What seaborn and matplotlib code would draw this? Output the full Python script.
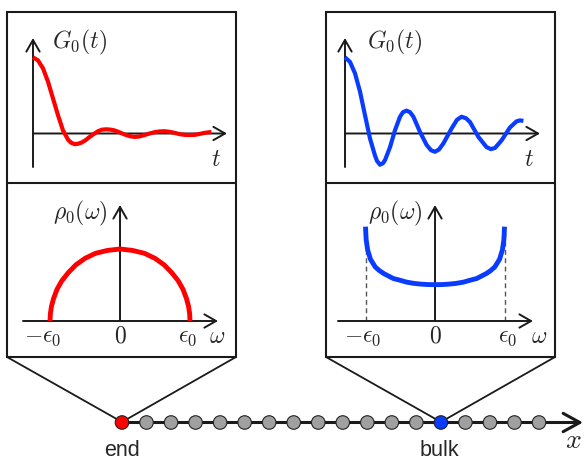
import matplotlib
matplotlib.use("Agg")
import matplotlib.pyplot as plt
import seaborn as sns
from matplotlib.patches import Rectangle

# G0(t) at the end of the chain
end_t = [0, 0.25, 0.5, 0.75, 1.0, 1.25, 1.5, 1.75, 1.9, 2.08, 2.25, 2.42, 2.62, 2.83, 3.05, 3.25,
         3.45, 3.67, 3.9, 4.08, 4.33, 4.58, 4.83, 5.08, 5.33, 5.58, 5.83, 6.08, 6.33, 6.58,
         6.83, 7.08, 7.33, 7.58, 7.83, 8.08, 8.33, 8.58, 8.92]
end_G = [1.0, 0.96, 0.855, 0.68, 0.46, 0.24, 0.04, -0.08, -0.12, -0.14, -0.135, -0.12, -0.09,
         -0.045, -0.005, 0.03, 0.05, 0.055, 0.05, 0.04, 0.015, -0.013, -0.035, -0.045, -0.038,
         -0.02, 0.0, 0.017, 0.027, 0.03, 0.022, 0.008, -0.008, -0.018, -0.02, -0.018, -0.006,
         0.008, 0.02]

# G0(t) in the bulk (right upper panel)
bulk_t = [0, 0.25, 0.5, 0.75, 1.0, 1.25, 1.5, 1.6, 1.75, 1.9, 2.0, 2.25, 2.5, 2.75, 2.9, 3.08,
          3.25, 3.42, 3.75, 4.08, 4.3, 4.5, 4.7, 4.92, 5.33, 5.6, 5.83, 6.05, 6.25, 6.67,
          7.08, 7.3, 7.5, 7.83, 8.25, 8.58, 8.75, 8.92]
bulk_G = [1.0, 0.94, 0.79, 0.55, 0.24, -0.066, -0.29, -0.36, -0.41, -0.39, -0.35, -0.18, 0.043,
          0.22, 0.28, 0.30, 0.28, 0.22, 0.02, -0.15, -0.22, -0.24, -0.21, -0.13, 0.066, 0.18,
          0.22, 0.2, 0.15, -0.045, -0.18, -0.205, -0.19, -0.09, 0.08, 0.16, 0.172, 0.166]

# rho0(omega) at the end: semicircle
end_w = [-1.0, -0.995, -0.98, -0.95, -0.9, -0.83, -0.74, -0.63, -0.5, -0.35, -0.18, 0.0,
         0.18, 0.35, 0.5, 0.63, 0.74, 0.83, 0.9, 0.95, 0.98, 0.995, 1.0]
end_rho = [0.0, 0.1, 0.2, 0.31, 0.44, 0.56, 0.67, 0.78, 0.87, 0.94, 0.98, 1.0,
           0.98, 0.94, 0.87, 0.78, 0.67, 0.56, 0.44, 0.31, 0.2, 0.1, 0.0]

# rho0(omega) in the bulk: U shape with edges at +-eps0
bulk_w = [-1.0, -0.995, -0.99, -0.97, -0.93, -0.86, -0.8, -0.74, -0.6, -0.5, -0.41, -0.3, -0.2,
          -0.1, 0.0, 0.1, 0.2, 0.3, 0.41, 0.5, 0.6, 0.74, 0.8, 0.86, 0.93, 0.97, 0.99, 0.995, 1.0]
bulk_rho = [1.31, 1.2, 1.125, 0.99, 0.86, 0.75, 0.7, 0.66, 0.59, 0.565, 0.54, 0.522, 0.512,
            0.506, 0.505, 0.506, 0.512, 0.522, 0.54, 0.565, 0.59, 0.66, 0.7, 0.75, 0.86, 0.99,
            1.125, 1.2, 1.31]

n_sites = 18
end_site = 0
bulk_site = 13

RED = "#ff0000"
BLUE = "#0a3cff"
GRAY = "#a0a0a0"

sns.set_theme(style="white")
plt.rcParams["mathtext.fontset"] = "cm"
plt.rcParams["font.family"] = ["Liberation Sans", "DejaVu Sans"]

W, H = 584, 461
fig = plt.figure(figsize=(W / 100, H / 100), dpi=100)


def px_axes(x0, y0, x1, y1):
    ax = fig.add_axes([x0 / W, 1 - y1 / H, (x1 - x0) / W, (y1 - y0) / H])
    ax.axis("off")
    return ax


def arrow(ax, start, end, lw=1.4, head="->,head_length=0.7,head_width=0.4"):
    ax.annotate("", xy=end, xytext=start, annotation_clip=False,
                arrowprops=dict(arrowstyle=head, lw=lw, color="k",
                                shrinkA=0, shrinkB=0))


# frame: boxes and zoom lines, in pixel coordinates
ax0 = px_axes(0, 0, W, H)
ax0.set_xlim(0, W)
ax0.set_ylim(H, 0)
for bx in (7, 326):
    ax0.add_patch(Rectangle((bx, 12), 229, 345, fill=False, lw=1.5, ec="k"))
    ax0.plot([bx, bx + 229], [183, 183], color="k", lw=1.5)

site_px = lambda i: 122 + i * 24.53
for bx, s in ((7, end_site), (326, bulk_site)):
    ax0.plot([bx, site_px(s), bx + 229], [357, 422, 357], color="k", lw=1.3)

ax0.text(122, 450, "end", ha="center", va="center", fontsize=15.5)
ax0.text(439, 450, "bulk", ha="center", va="center", fontsize=15.5)
ax0.text(573, 441, r"$x$", ha="center", va="center", fontsize=20)

fs = 17
curve_kw = dict(sort=False, clip_on=False, zorder=5, solid_joinstyle="round",
                solid_capstyle="butt")

# upper panels: G0(t)
for (x0, x1, tmax), t, g, col in (((33, 227, 9.7), end_t, end_G, RED),
                                  ((345, 540, 9.75), bulk_t, bulk_G, BLUE)):
    ax = px_axes(x0, 38, x1, 167)
    ax.set_xlim(0, tmax)
    ax.set_ylim(-0.44, 1.254)
    arrow(ax, (0, 0), (tmax, 0))
    arrow(ax, (0, -0.44), (0, 1.254))
    sns.lineplot(x=t, y=g, ax=ax, color=col, lw=3.0, **curve_kw)
    ax.text(0.95 if col == RED else 1.1, 1.2, r"$G_0(t)$", fontsize=fs,
            ha="left", va="center")
    ax.text(tmax - 0.55, -0.35, r"$t$", fontsize=fs, ha="center", va="center")

# lower panels: rho0(omega)
panels = [
    (23, 218, -1.386, 1.4, end_w, end_rho, RED, (-1.1, 0.97, 1.39)),
    (338, 533, -1.396, 1.41, bulk_w, bulk_rho, BLUE, (-1.04, 1.05, 1.5)),
]
for x0, x1, wmin, wmax, w, rho, col, (xm, xp, xw) in panels:
    ax = px_axes(x0, 205, x1, 321)
    ax.set_xlim(wmin, wmax)
    ax.set_ylim(0, 1.611)
    if col == BLUE:
        for e in (-1, 1):
            ax.plot([e, e], [0, 1.31], color="#555555", lw=1.0, ls=(0, (3.5, 2.5)))
    arrow(ax, (wmin, 0), (wmax, 0))
    arrow(ax, (0, 0), (0, 1.611))
    sns.lineplot(x=w, y=rho, ax=ax, color=col, lw=3.5, **curve_kw)
    ax.text(-0.17, 1.5, r"$\rho_0(\omega)$", fontsize=fs, ha="right", va="center")
    ax.text(xm, -0.22, r"$-\epsilon_0$", fontsize=fs, ha="center", va="center")
    ax.text(0, -0.22, r"$0$", fontsize=fs, ha="center", va="center")
    ax.text(xp, -0.22, r"$\epsilon_0$", fontsize=fs, ha="center", va="center")
    ax.text(xw, -0.22, r"$\omega$", fontsize=fs, ha="center", va="center")

# the chain of sites
axc = px_axes(0, 400, W, 445)
axc.set_xlim(-122 / 24.53, (W - 122) / 24.53)
axc.set_ylim(-1, 1)
sites = list(range(n_sites))
kind = ["end" if i == end_site else "bulk" if i == bulk_site else "site" for i in sites]
arrow(axc, (0, 0), ((583 - 122) / 24.53, 0), lw=2.2,
      head="->,head_length=1.0,head_width=0.55")
sns.scatterplot(x=sites, y=[0] * n_sites, hue=kind, ax=axc, s=95,
                palette={"end": RED, "bulk": BLUE, "site": GRAY},
                edgecolor="#222222", linewidth=0.8, legend=False, zorder=3,
                clip_on=False)

fig.savefig("out.png", dpi=100)
